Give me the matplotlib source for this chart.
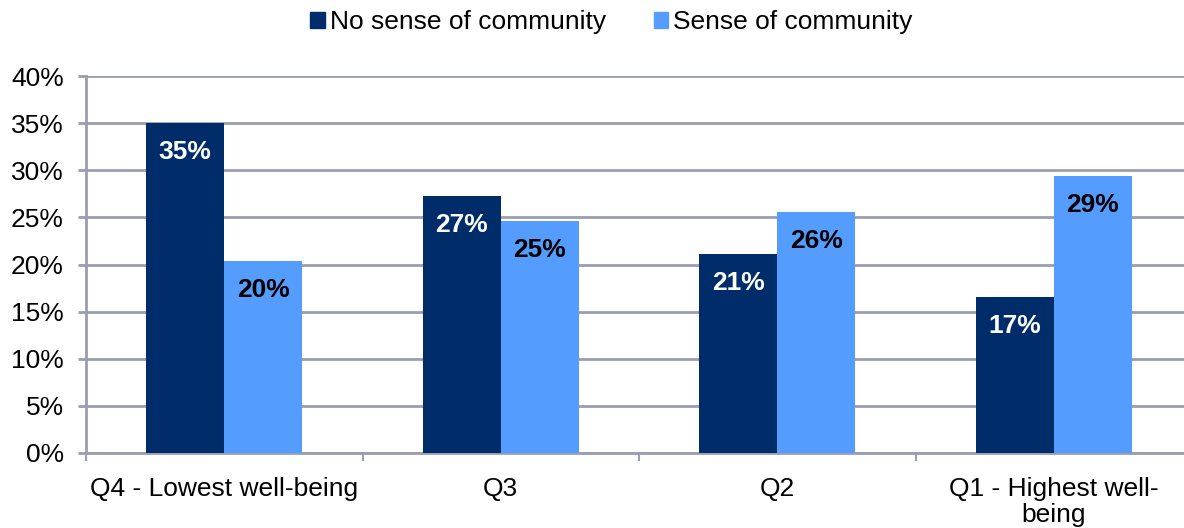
import matplotlib
matplotlib.use("Agg")
import matplotlib.pyplot as plt
import numpy as np
from matplotlib.patches import Patch

categories = ["Q4 - Lowest well-being", "Q3", "Q2", "Q1 - Highest well-\nbeing"]
no_sense = [35.0, 27.3, 21.1, 16.6]
sense = [20.4, 24.6, 25.6, 29.4]
series_names = ["No sense of community", "Sense of community"]
yticks = [0, 5, 10, 15, 20, 25, 30, 35, 40]

dark = "#002D6A"
light = "#559CFF"
grid_c = "#9B9DB0"

plt.rcParams["font.family"] = ["Liberation Sans", "DejaVu Sans"]

fig = plt.figure(figsize=(11.84, 5.28), dpi=100)
ax = fig.add_axes([86 / 1184, 1 - 453 / 528, (1192 - 86) / 1184, (453 - 76) / 528])

x = np.arange(len(categories))
w = 78 / 276.5
b1 = ax.bar(x - w / 2, no_sense, w, color=dark, zorder=3)
b2 = ax.bar(x + w / 2, sense, w, color=light, zorder=3)

for bars, vals, tc in [(b1, no_sense, "white"), (b2, sense, "black")]:
    for r, v in zip(bars, vals):
        ax.annotate(f"{v:.0f}%", (r.get_x() + r.get_width() / 2, v),
                    xytext=(0, -21), textcoords="offset points",
                    ha="center", va="center", fontsize=19, fontweight="bold",
                    color=tc, zorder=4)

ax.set_xlim(-0.5, 3.5)
ax.set_ylim(0, 40)
ax.set_yticks(yticks)
ax.set_yticklabels([f"{t}%" for t in yticks])
ax.yaxis.grid(True, color=grid_c, linewidth=2, zorder=0)
ax.set_axisbelow(True)

ax.set_xticks(x)
ax.set_xticklabels(categories, fontsize=19, linespacing=1.1)
ax.set_xticks([-0.5, 0.5, 1.5, 2.5, 3.5], minor=True)
ax.tick_params(axis="x", which="major", length=0, pad=17)
ax.tick_params(axis="x", which="minor", length=6, width=1.5, color=grid_c)
ax.tick_params(axis="y", length=6, width=2, color=grid_c, labelsize=19, pad=10)

for s in ["top", "right"]:
    ax.spines[s].set_visible(False)
for s in ["left", "bottom"]:
    ax.spines[s].set_color(grid_c)
    ax.spines[s].set_linewidth(2)

handles = [Patch(color=dark), Patch(color=light)]
fig.legend(handles, series_names, loc="center", bbox_to_anchor=(0.5165, 0.958),
           ncol=2, frameon=False, fontsize=19, handlelength=0.55, handleheight=0.55,
           handletextpad=0.2, columnspacing=1.8)

fig.savefig("out.png", dpi=100)
